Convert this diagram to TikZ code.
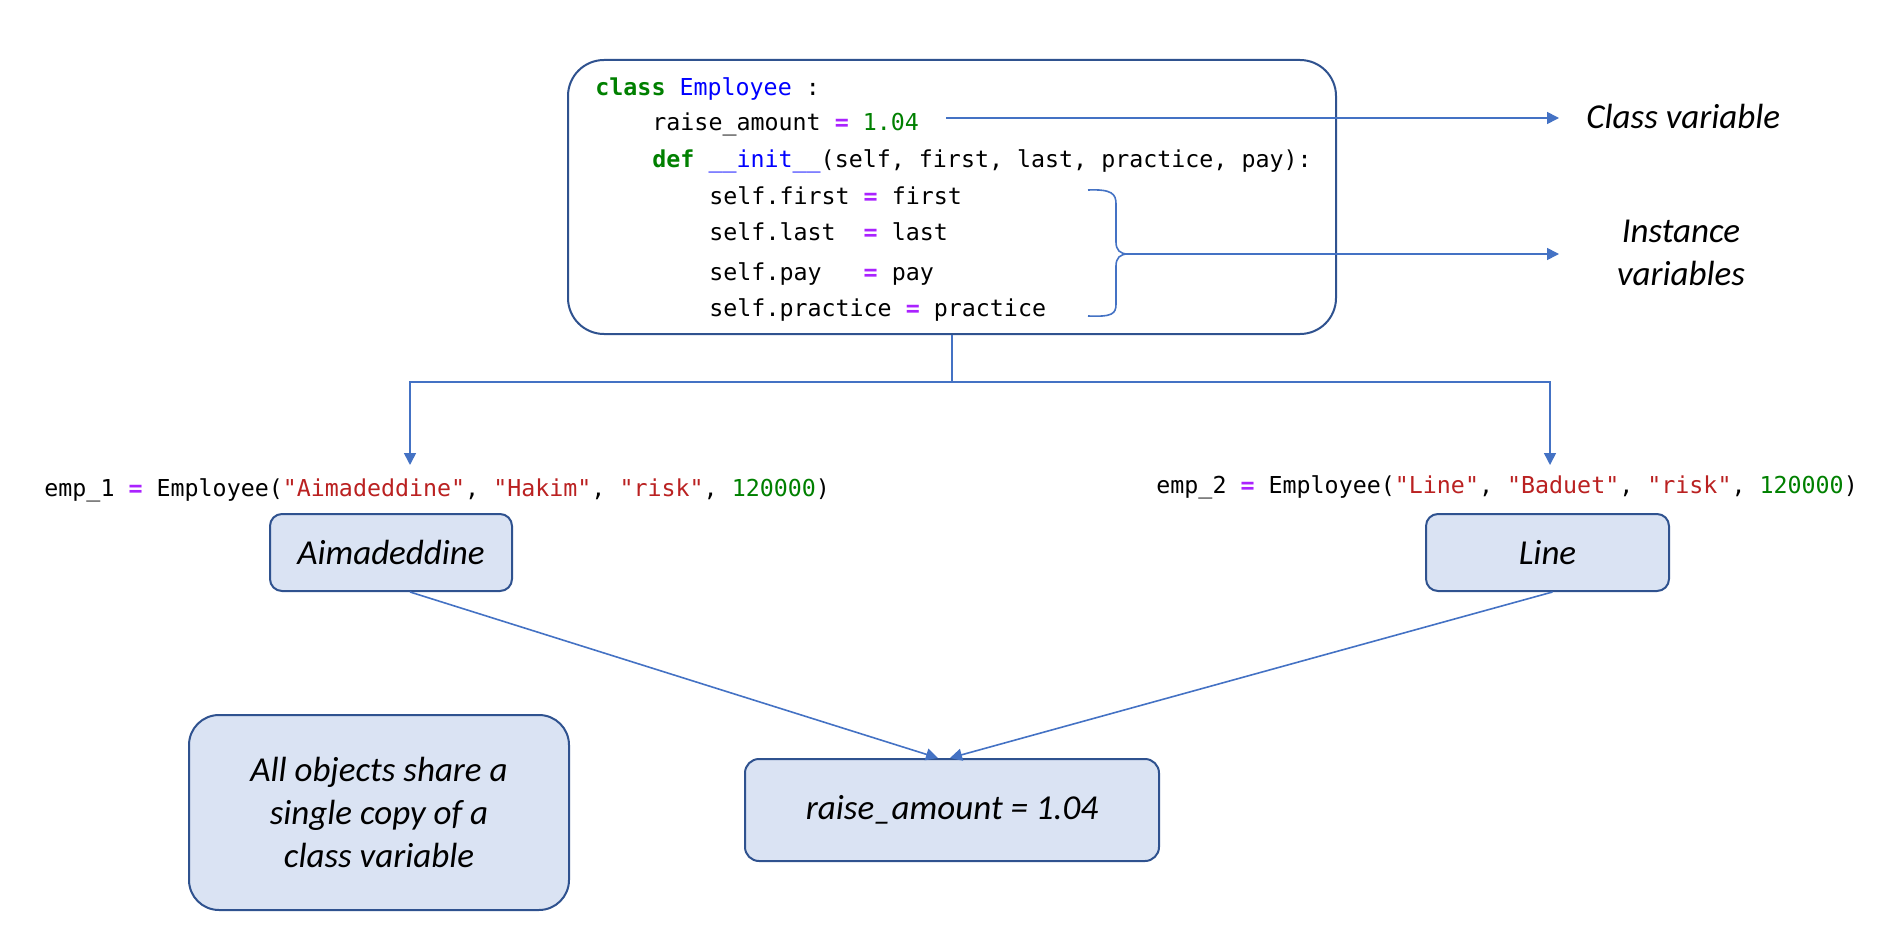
\documentclass[tikz,border=0pt]{standalone}
\usepackage{fontspec}
\setmainfont{Carlito}
\setmonofont{DejaVu Sans Mono}
\usetikzlibrary{positioning}
\usetikzlibrary{arrows.meta}
\definecolor{boxline}{HTML}{2F528F}
\definecolor{arrline}{HTML}{4472C4}
\definecolor{boxfill}{HTML}{DAE3F3}
\definecolor{kwgreen}{HTML}{008000}
\definecolor{clsblue}{HTML}{0000FF}
\definecolor{oppurple}{HTML}{AA22FF}
\definecolor{strred}{HTML}{BA2121}
\newcommand{\kw}[1]{\textcolor{kwgreen}{\textbf{#1}}}
\newcommand{\clsname}[1]{\textcolor{clsblue}{#1}}
\newcommand{\eqop}{\textcolor{oppurple}{\textbf{=}}}
\newcommand{\strg}[1]{\textcolor{strred}{"#1"}}
\newcommand{\numc}[1]{\textcolor{kwgreen}{#1}}

\begin{document}
\begin{tikzpicture}[x=0.5pt, y=-0.5pt,
    codeline/.style={anchor=base west, inner sep=0pt, font=\fontsize{11.65}{14}\selectfont\ttfamily},
    codebox/.style={draw=boxline, line width=1pt, rounded corners=18pt, fill=white},
    objbox/.style={draw=boxline, line width=1pt, rounded corners=6pt, fill=boxfill, font=\fontsize{17.5}{21.5}\selectfont\itshape},
    lbl/.style={inner sep=0pt, font=\fontsize{17.5}{21.5}\selectfont\itshape},
    conn/.style={draw=arrline, line width=0.8pt},
    arr/.style={conn, -{Triangle[length=6pt, width=6pt]}}]
    \useasboundingbox (0,0) rectangle (1900,936);

    % class definition
    \node[codebox, minimum width=384pt, minimum height=137pt] (cls) at (952,197) {};
    \node[codeline] (l1) at (595,96) {\kw{class} \clsname{Employee} :};
    \node[codeline] (l2) at (652,131) {raise\_amount \eqop{} \numc{1.04}};
    \node[codeline] (l3) at (652,168) {\kw{def} \clsname{\_\_init\_\_}(self, first, last, practice, pay):};
    \node[codeline] (l4) at (709,205) {self.first \eqop{} first};
    \node[codeline] (l5) at (709,241) {self.last~~\eqop{} last};
    \node[codeline] (l6) at (709,280) {self.pay~~~\eqop{} pay};
    \node[codeline] (l7) at (709,316) {self.practice \eqop{} practice};

    % labels on the right
    \node[lbl, anchor=west] (clsvar) at (1586,116) {Class variable};
    \node[lbl, align=center] (instvar) at (1681,253) {Instance\\variables};
    \coordinate (cvtip) at (1559,118);
    \coordinate (ivtip) at (1559,254);
    \coordinate (br) at (1128,254);

    \draw[arr] (cvtip -| l2.east) ++(13.5pt,0) -- (cvtip);
    \draw[conn] (1088,190) .. controls (1112,189) and (1116,194) .. (1116,204) -- (1116,242)
        .. controls (1116,250) and (1120,254) .. (br)
        .. controls (1120,254) and (1116,258) .. (1116,266) -- (1116,304)
        .. controls (1116,314) and (1112,317) .. (1088,316);
    \draw[arr] (br) -- (ivtip);

    % objects
    \node[codeline] (emp1) at (44,496) {emp\_1 \eqop{} Employee(\strg{Aimadeddine}, \strg{Hakim}, \strg{risk}, \numc{120000})};
    \node[codeline] (emp2) at (1156,493) {emp\_2 \eqop{} Employee(\strg{Line}, \strg{Baduet}, \strg{risk}, \numc{120000})};
    \node[objbox, minimum width=121pt, minimum height=38.5pt] (aim) at (391,552.5) {Aimadeddine};
    \node[objbox, minimum width=121.5pt, minimum height=38.5pt] (line) at (1547.5,552.5) {Line};
    \node[objbox, rounded corners=7pt, minimum width=207pt, minimum height=51pt] (ra) at (952,810) {raise\_amount = 1.04};
    \node[objbox, rounded corners=15pt, minimum width=190pt, minimum height=97.5pt, align=center] (note) at (379,812.5) {All objects share a\\single copy of a\\class variable};

    \coordinate (split) at (cls.south |- 0,382);
    \coordinate (in1) at (410,465);
    \coordinate (in2) at (1550,465);
    \draw[conn] (cls.south) -- (split);
    \draw[arr] (split) -| (in1);
    \draw[arr] (split) -| (in2);
    \draw[arr] ([xshift=9.5pt]aim.south) -- ([xshift=-7pt]ra.north);
    \draw[arr] ([xshift=2.5pt]line.south) -- ([xshift=-1pt]ra.north);
\end{tikzpicture}
\end{document}
